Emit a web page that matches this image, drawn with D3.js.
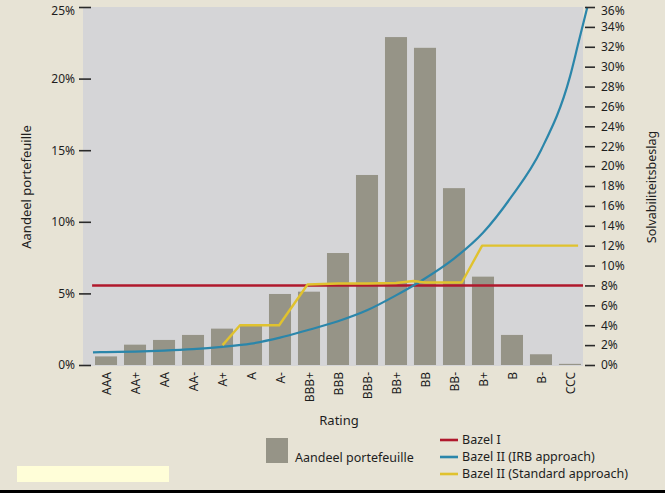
<!DOCTYPE html>
<html><head><meta charset="utf-8">
<script src="https://cdn.jsdelivr.net/npm/d3@7"></script>
<style>
html,body{margin:0;padding:0;background:#e7e3d5;}
svg{display:block;font-family:"Noto Sans",sans-serif;}
</style></head>
<body><svg id="c" width="665" height="493"></svg>
<script>
const ratings = ["AAA","AA+","AA","AA-","A+","A","A-","BBB+","BBB","BBB-","BB+","BB","BB-","B+","B","B-","CCC"];
const portfolioShare = [0.006,0.0142,0.0175,0.021,0.0254,0.028,0.0496,0.0512,0.0782,0.1327,0.229,0.2215,0.1235,0.0617,0.021,0.0075,0.0008];
// line series: positions in rating-index units, values in %
const baselIPos = [-0.48, 16.45];
const baselIVal = [8, 8];
const irbPos = [-0.45,0,1,2,3,4,5,6,7,8,9,10,11,12,13,14,15,16,16.3,16.6];
const irbVal = [1.27,1.3,1.35,1.45,1.6,1.83,2.15,2.75,3.55,4.4,5.5,7.0,8.7,10.7,13.3,17.0,21.6,29.0,32.5,36.0];
const stdPos = [4.02,4.62,5.97,6.95,8,9,10,10.6,11,12.27,12.97,16.28];
const stdVal = [2,4,4,8.1,8.2,8.2,8.25,8.45,8.3,8.3,12,12];
const leftTicks = [0,0.05,0.10,0.15,0.20,0.25];
const rightTicks = d3.range(0,37,2);
const legendLines = ["Bazel I","Bazel II (IRB approach)","Bazel II (Standard approach)"];
const lineColors = ["#b0182c","#2b86aa","#e0c22e"];

const svg = d3.select("#c");
const plot = {l:83, r:583, t:7, b:366};
const x = d3.scaleBand().domain(ratings).range([95,581]).paddingInner(0.24).paddingOuter(0);
const bw = x.bandwidth();
const xi = d3.scaleLinear().domain([0,16]).range([x("AAA")+bw/2, x("CCC")+bw/2]);
const yL = d3.scaleLinear().domain([0,0.25]).range([365,7]);
const yR = d3.scaleLinear().domain([0,36]).range([365,7]);

svg.append("rect").attr("x",0).attr("y",0).attr("width",665).attr("height",493).attr("fill","#e7e3d5");
svg.append("rect").attr("x",plot.l).attr("y",plot.t).attr("width",plot.r-plot.l).attr("height",plot.b-plot.t).attr("fill","#d5d5d7");

svg.append("g").selectAll("rect").data(ratings).join("rect")
  .attr("x",d=>x(d)).attr("width",bw)
  .attr("y",(d,i)=>yL(portfolioShare[i])).attr("height",(d,i)=>yL(0)-yL(portfolioShare[i]))
  .attr("fill","#969487");

const line = d3.line().x(d=>xi(d[0])).y(d=>yR(d[1]));
svg.append("path").datum(baselIPos.map((p,i)=>[p,baselIVal[i]])).attr("d",line)
  .attr("fill","none").attr("stroke",lineColors[0]).attr("stroke-width",2.6);
svg.append("path").datum(irbPos.map((p,i)=>[p,irbVal[i]])).attr("d",d3.line().x(d=>xi(d[0])).y(d=>yR(d[1])).curve(d3.curveMonotoneX))
  .attr("fill","none").attr("stroke",lineColors[1]).attr("stroke-width",2.2);
svg.append("path").datum(stdPos.map((p,i)=>[p,stdVal[i]])).attr("d",line)
  .attr("fill","none").attr("stroke",lineColors[2]).attr("stroke-width",2.4).attr("stroke-linejoin","round");

// left axis
const ax = svg.append("g").attr("transform","translate(91,0)")
  .call(d3.axisLeft(yL).tickValues(leftTicks).tickSize(12).tickPadding(4).tickFormat(d=>Math.round(d*100)+"%"));
ax.select(".domain").remove();
ax.selectAll("line").attr("stroke","#2a2a2a").attr("stroke-width",1.6);
ax.selectAll("text").attr("font-size",12).attr("fill","#1e1e1e").attr("font-family","Noto Sans")
  .attr("dy",d=>d===0.25?"0.62em":"0.32em");

const ar = svg.append("g").attr("transform","translate(585,0)")
  .call(d3.axisRight(yR).tickValues(rightTicks).tickSize(10).tickPadding(6).tickFormat(d=>d+"%"));
ar.select(".domain").remove();
ar.selectAll("line").attr("stroke","#2a2a2a").attr("stroke-width",1.6);
ar.selectAll("text").attr("font-size",12).attr("fill","#1e1e1e").attr("font-family","Noto Sans")
  .attr("dy",d=>d===36?"0.62em":"0.32em");

// x labels
svg.append("g").selectAll("text").data(ratings).join("text")
  .attr("transform",d=>`translate(${x(d)+bw/2+1},372) rotate(-90)`)
  .attr("text-anchor","end").attr("dy","0.35em")
  .attr("font-size",12).attr("fill","#1e1e1e").text(d=>d);

svg.append("text").attr("x",339).attr("y",425).attr("text-anchor","middle")
  .attr("font-size",13).attr("fill","#1e1e1e").text("Rating");
svg.append("text").attr("transform","translate(31,187) rotate(-90)").attr("text-anchor","middle")
  .attr("font-size",13).attr("fill","#1e1e1e").text("Aandeel portefeuille");
svg.append("text").attr("transform","translate(656,187) rotate(-90)").attr("text-anchor","middle")
  .attr("font-size",12.5).attr("fill","#1e1e1e").text("Solvabiliteitsbeslag");

// legend
svg.append("rect").attr("x",266).attr("y",438).attr("width",22).attr("height",25).attr("fill","#969487");
svg.append("text").attr("x",295).attr("y",462).attr("font-size",12.5).attr("fill","#1e1e1e").text("Aandeel portefeuille");
const lg = svg.append("g").selectAll("g").data(legendLines).join("g")
  .attr("transform",(d,i)=>`translate(440,${440+i*17})`);
lg.append("line").attr("x1",0).attr("x2",18).attr("stroke",(d,i)=>lineColors[i]).attr("stroke-width",2.6);
lg.append("text").attr("x",22).attr("dy","0.35em").attr("font-size",12.5).attr("fill","#1e1e1e").text(d=>d);

svg.append("rect").attr("x",17).attr("y",466).attr("width",152).attr("height",16).attr("fill","#fffed8");
svg.append("rect").attr("x",0).attr("y",490).attr("width",665).attr("height",3).attr("fill","#000");
</script></body></html>
